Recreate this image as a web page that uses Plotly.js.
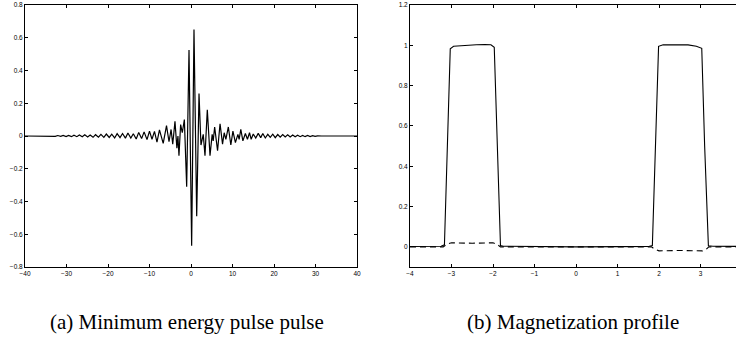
<!DOCTYPE html>
<html>
<head>
<meta charset="utf-8">
<script src="https://cdn.plot.ly/plotly-3.0.1.min.js"></script>
<style>
html,body{margin:0;padding:0;overflow:hidden;background:#fff;}
#chart{width:745px;height:347px;}
</style>
</head>
<body>
<div id="chart"></div>
<script>
// (a) Minimum energy pulse: time samples and amplitude
const pulseX = [-40, -34.0, -33.4, -32.7, -32.1, -31.4, -30.8, -30.1, -29.5, -28.8, -28.2, -27.5, -26.9, -26.2, -25.6, -24.9, -24.3, -23.6, -23.0, -22.3, -21.7, -21.0, -20.4, -19.7, -19.1, -18.4, -17.8, -17.1, -16.5, -15.8, -15.2, -14.5, -13.9, -13.2, -12.6, -11.9, -11.3, -10.6, -10.0, -9.4, -8.8, -8.2, -7.6, -7.1, -6.7, -5.9, -5.3, -4.8, -4.4, -3.86, -3.4, -3.15, -2.9, -2.5, -2.1, -1.6, -1.04, -0.48, 0.16, 0.72, 1.37, 1.93, 2.4, 2.95, 3.37, 3.93, 4.58, 5.1, 5.35, 5.7, 6.4, 7.0, 7.6, 8.0, 8.4, 9.0, 9.6, 10.1, 10.7, 11.3, 11.6, 12.0, 12.5, 13.1, 13.6, 14.1, 14.5, 15.0, 15.6, 16.2, 16.8, 17.3, 17.9, 18.5, 19.1, 19.7, 20.3, 20.9, 21.5, 22.1, 22.7, 23.3, 23.9, 24.5, 25.1, 25.7, 26.3, 26.9, 27.5, 28.1, 28.7, 29.3, 29.9, 30.5, 31.5, 40];
const pulseY = [0, 0.000, 0.002, -0.002, 0.003, -0.002, 0.004, -0.003, 0.004, -0.004, 0.005, -0.004, 0.006, -0.005, 0.007, -0.006, 0.006, -0.008, 0.008, -0.007, 0.010, -0.008, 0.012, -0.009, 0.011, -0.012, 0.014, -0.010, 0.015, -0.013, 0.018, -0.012, 0.014, -0.018, 0.022, -0.016, 0.025, -0.022, 0.030, -0.020, 0.028, -0.038, 0.037, -0.020, -0.045, 0.063, -0.035, 0.040, -0.050, 0.090, -0.075, 0.000, -0.120, 0.070, 0.020, 0.100, -0.310, 0.525, -0.670, 0.650, -0.490, 0.260, -0.055, 0.010, -0.120, 0.160, -0.120, 0.010, -0.030, 0.055, -0.090, 0.075, -0.050, 0.020, -0.020, 0.055, -0.055, 0.030, -0.040, 0.010, -0.020, 0.040, -0.030, 0.015, -0.020, 0.020, -0.020, 0.012, -0.012, 0.016, -0.010, 0.015, -0.012, 0.010, -0.008, 0.011, -0.010, 0.009, -0.007, 0.009, -0.006, 0.007, -0.006, 0.006, -0.005, 0.005, -0.004, 0.004, -0.004, 0.003, -0.003, 0.002, -0.002, 0.001, 0, 0];

// (b) Magnetization profile: position, solid and dashed components
const magX = [-4, -3.5, -3.25, -3.17, -3.1, -3.03, -2.95, -2.7, -2.4, -2.2, -2.05, -1.97, -1.9, -1.82, -1.75, -1, 0, 1, 1.75, 1.84, 1.92, 1.99, 2.1, 2.4, 2.7, 2.9, 3.03, 3.1, 3.19, 3.3, 4];
const magY = [0.002, 0.001, 0.003, 0.01, 0.5, 0.983, 0.995, 1.0, 1.003, 1.004, 1.003, 0.99, 0.5, 0.006, 0.003, 0.001, 0, 0.001, 0.002, 0.006, 0.5, 0.995, 1.003, 1.004, 1.002, 0.995, 0.985, 0.5, 0.005, 0.003, 0.002];
const dashX = [-4, -3.2, -3.1, -3.0, -2.5, -2.0, -1.9, -1.82, 0, 1.82, 1.9, 2.0, 2.5, 3.05, 3.15, 3.2, 4];
const dashY = [0, 0, 0.015, 0.02, 0.018, 0.02, 0.012, 0, 0, 0, -0.012, -0.02, -0.018, -0.02, -0.01, 0, 0];

// tick values / labels
const xTicksA = [-40, -30, -20, -10, 0, 10, 20, 30, 40];
const yTicksA = [-0.8, -0.6, -0.4, -0.2, 0, 0.2, 0.4, 0.6, 0.8];
const xTicksB = [-4, -3, -2, -1, 0, 1, 2, 3];
const yTicksB = [0, 0.2, 0.4, 0.6, 0.8, 1, 1.2];
const captions = ["(a) Minimum energy pulse pulse", "(b) Magnetization profile"];

const W = 745, H = 347;
const mL = 25, mR = 3, mT = 5, mB = 80;
const pw = W - mL - mR, ph = H - mT - mB;
const px2x = p => (p - mL) / pw;
const py2y = p => (H - mB - p) / ph;
const fmt = v => v < 0 ? '\u2212' + Math.abs(v) : String(v);

const tickFont = {family: "'Liberation Sans', Arial, sans-serif", size: 6.5, color: '#000'};
const axisCommon = {
  showline: true, linecolor: '#000', linewidth: 1, mirror: 'ticks',
  ticks: 'inside', ticklen: 3, tickwidth: 1, tickcolor: '#000',
  showgrid: false, zeroline: false, tickfont: tickFont, tickmode: 'array'
};

const traces = [
  {x: pulseX, y: pulseY, type: 'scatter', mode: 'lines', xaxis: 'x', yaxis: 'y',
   line: {color: '#000', width: 1.2}},
  {x: magX, y: magY, type: 'scatter', mode: 'lines', xaxis: 'x2', yaxis: 'y2',
   line: {color: '#000', width: 1.1}},
  {x: dashX, y: dashY, type: 'scatter', mode: 'lines', xaxis: 'x2', yaxis: 'y2',
   line: {color: '#000', width: 1.1, dash: '6px,4px'}}
];

const capFont = {family: "'Liberation Serif', 'Times New Roman', serif", size: 21, color: '#000'};

const layout = {
  width: W, height: H,
  margin: {l: mL, r: mR, t: mT, b: mB},
  paper_bgcolor: '#fff', plot_bgcolor: '#fff',
  showlegend: false,
  xaxis: Object.assign({}, axisCommon, {domain: [0, px2x(357)], range: [-40, 40],
    tickvals: xTicksA, ticktext: xTicksA.map(fmt), anchor: 'y'}),
  yaxis: Object.assign({}, axisCommon, {domain: [0, 1], range: [-0.8, 0.8],
    tickvals: yTicksA, ticktext: yTicksA.map(fmt), anchor: 'x'}),
  xaxis2: Object.assign({}, axisCommon, {domain: [px2x(410), 1], range: [-4, 4],
    tickvals: xTicksB, ticktext: xTicksB.map(fmt), anchor: 'y2'}),
  yaxis2: Object.assign({}, axisCommon, {domain: [0, 1], range: [-0.1, 1.2],
    tickvals: yTicksB, ticktext: yTicksB.map(fmt), anchor: 'x2'}),
  annotations: [
    {text: captions[0], xref: 'paper', yref: 'paper', x: px2x(186.5), y: py2y(322),
     xanchor: 'center', yanchor: 'middle', showarrow: false, font: capFont},
    {text: captions[1], xref: 'paper', yref: 'paper', x: px2x(573), y: py2y(322),
     xanchor: 'center', yanchor: 'middle', showarrow: false, font: capFont}
  ]
};

Plotly.newPlot('chart', traces, layout, {displayModeBar: false, staticPlot: true});
</script>
</body>
</html>
